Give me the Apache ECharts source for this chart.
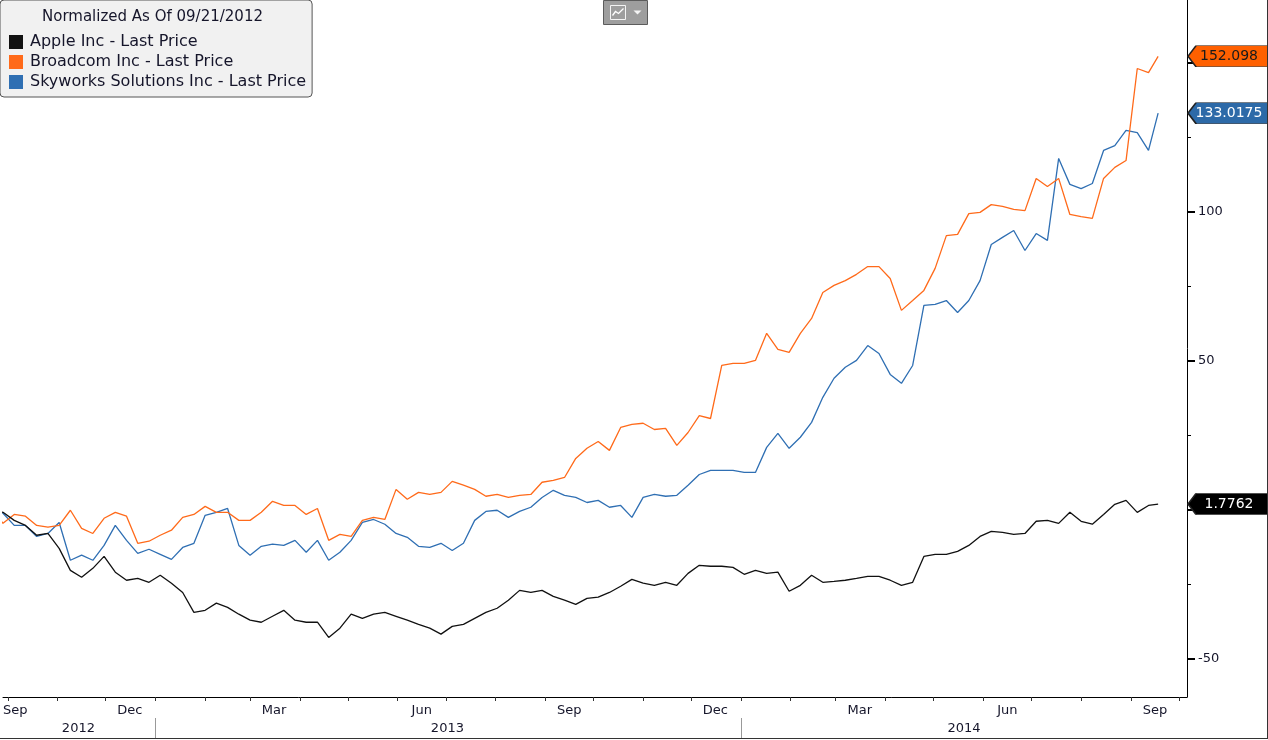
<!DOCTYPE html>
<html>
<head>
<meta charset="utf-8">
<script src="https://cdn.jsdelivr.net/npm/echarts@6/dist/echarts.min.js"></script>
<style>
  html, body { margin: 0; padding: 0; background: #fff; }
  #chart { width: 1267px; height: 738px; border-right: 1px solid #333; border-bottom: 1px solid #333; }
</style>
</head>
<body>
<div id="chart"></div>
<script>
// weekly closes, normalized (% change) as of 09/21/2012
const dates = [
  '2012-09-21', '2012-09-28', '2012-10-05', '2012-10-12', '2012-10-19', '2012-10-26', '2012-11-02', '2012-11-09',
  '2012-11-16', '2012-11-23', '2012-11-30', '2012-12-07', '2012-12-14', '2012-12-21', '2012-12-28',
  '2013-01-04', '2013-01-11', '2013-01-18', '2013-01-25', '2013-02-01', '2013-02-08', '2013-02-15', '2013-02-22',
  '2013-03-01', '2013-03-08', '2013-03-15', '2013-03-22', '2013-03-29', '2013-04-05', '2013-04-12', '2013-04-19',
  '2013-04-26', '2013-05-03', '2013-05-10', '2013-05-17', '2013-05-24', '2013-05-31', '2013-06-07', '2013-06-14',
  '2013-06-21', '2013-06-28', '2013-07-05', '2013-07-12', '2013-07-19', '2013-07-26', '2013-08-02', '2013-08-09',
  '2013-08-16', '2013-08-23', '2013-08-30', '2013-09-06', '2013-09-13', '2013-09-20', '2013-09-27', '2013-10-04',
  '2013-10-11', '2013-10-18', '2013-10-25', '2013-11-01', '2013-11-08', '2013-11-15', '2013-11-22', '2013-11-29',
  '2013-12-06', '2013-12-13', '2013-12-20', '2013-12-27',
  '2014-01-03', '2014-01-10', '2014-01-17', '2014-01-24', '2014-01-31', '2014-02-07', '2014-02-14', '2014-02-21',
  '2014-02-28', '2014-03-07', '2014-03-14', '2014-03-21', '2014-03-28', '2014-04-04', '2014-04-11', '2014-04-18',
  '2014-04-25', '2014-05-02', '2014-05-09', '2014-05-16', '2014-05-23', '2014-05-30', '2014-06-06', '2014-06-13',
  '2014-06-20', '2014-06-27', '2014-07-04', '2014-07-11', '2014-07-18', '2014-07-25', '2014-08-01', '2014-08-08',
  '2014-08-15', '2014-08-22', '2014-08-29', '2014-09-05', '2014-09-12', '2014-09-18'
];

const apple = [
  0, -1.0, -3.7, -5.4, -8.7, -8.1, -13.1, -20.5, -22.8, -19.8,
  -15.8, -21.1, -23.8, -23.2, -24.5, -22.1, -24.8, -27.9, -34.6, -33.9,
  -31.5, -32.9, -35.2, -37.2, -37.9, -35.9, -33.9, -37.2, -37.9, -37.9,
  -43.0, -39.9, -35.2, -36.6, -35.2, -34.6, -35.9, -37.2, -38.6, -39.9,
  -41.9, -39.3, -38.6, -36.6, -34.6, -33.2, -30.5, -27.2, -27.9, -27.2,
  -29.2, -30.5, -31.9, -29.9, -29.5, -27.9, -25.8, -23.5, -24.8, -25.5,
  -24.5, -25.5, -21.5, -18.8, -19.1, -19.1, -19.5, -21.8, -20.5, -21.5,
  -21.1, -27.5, -25.5, -22.1, -24.5, -24.2, -23.8, -23.2, -22.5, -22.5,
  -23.8, -25.5, -24.5, -15.8, -15.1, -15.1, -14.1, -12.1, -9.1, -7.4,
  -7.7, -8.4, -8.1, -4.0, -3.7, -4.7, -1.0, -4.0, -5.0, -1.7,
  1.7, 3.0, -1.0, 1.3, 1.7762
];

const broadcom = [
  0, -4.7, -1.7, -2.3, -5.4, -6.0, -5.4, -0.3, -6.4, -8.1,
  -3.0, -1.0, -2.3, -11.4, -10.7, -8.7, -7.0, -2.7, -1.7, 1.0,
  -1.0, -1.0, -3.7, -3.7, -1.0, 2.7, 1.3, 1.3, -1.7, 0.3,
  -10.4, -8.4, -9.1, -3.7, -2.7, -3.4, 6.7, 3.4, 5.7, 5.0,
  5.7, 9.4, 8.1, 6.7, 4.4, 5.0, 4.0, 4.7, 5.0, 9.1,
  9.7, 10.7, 17.1, 20.5, 22.8, 19.8, 27.5, 28.5, 28.9, 26.8,
  27.2, 21.5, 25.8, 31.5, 30.5, 48.3, 49.0, 49.0, 50.0, 59.1,
  53.7, 52.7, 59.1, 64.1, 72.8, 75.2, 76.8, 78.9, 81.5, 81.5,
  77.5, 66.8, 70.1, 73.5, 80.9, 91.9, 92.3, 99.3, 99.7, 102.3,
  101.7, 100.7, 100.3, 111.1, 108.4, 111.1, 99.0, 98.3, 97.7, 111.1,
  114.8, 117.1, 148.0, 146.6, 152.098
];

const skyworks = [
  0, -1.3, -5.4, -5.4, -9.1, -8.1, -4.4, -17.1, -15.4, -17.1,
  -12.1, -5.4, -10.4, -14.8, -13.4, -15.1, -16.8, -12.8, -11.4, -2.0,
  -1.0, 0.3, -12.1, -15.4, -12.4, -11.7, -12.1, -10.4, -14.4, -10.4,
  -17.1, -14.4, -10.4, -4.4, -3.4, -5.0, -8.1, -9.4, -12.4, -12.8,
  -11.4, -13.8, -11.4, -3.7, -0.7, -0.3, -2.7, -0.7, 0.7, 4.0,
  6.4, 4.7, 4.0, 2.3, 3.0, 0.7, 1.3, -2.7, 4.0, 5.0,
  4.4, 4.7, 8.1, 11.7, 13.1, 13.1, 13.1, 12.4, 12.4, 20.8,
  25.5, 20.5, 24.2, 29.2, 37.6, 44.0, 47.7, 50.0, 55.0, 52.3,
  45.3, 42.3, 48.3, 68.5, 68.8, 70.1, 66.1, 70.1, 76.8, 88.9,
  91.3, 93.6, 86.9, 92.6, 90.3, 117.8, 109.1, 107.7, 109.4, 120.5,
  122.1, 127.2, 126.5, 120.5, 133.0175
];

const seriesNames = ['Apple Inc - Last Price', 'Broadcom Inc - Last Price', 'Skyworks Solutions Inc - Last Price'];
const seriesColors = ['#111111', '#ff6a1a', '#2f6fb3'];
const tagColors = ['#000000', '#ff6000', '#2d6aa8'];
const tagTextColors = ['#ffffff', '#1a1a1a', '#ffffff'];

// axis range / ticks
const xStart = '2012-09-28';
const xEnd = '2014-10-06';
const monthStarts = [
  '2012-10-01', '2012-11-01', '2012-12-01', '2013-01-01', '2013-02-01', '2013-03-01', '2013-04-01',
  '2013-05-01', '2013-06-01', '2013-07-01', '2013-08-01', '2013-09-01', '2013-10-01', '2013-11-01',
  '2013-12-01', '2014-01-01', '2014-02-01', '2014-03-01', '2014-04-01', '2014-05-01', '2014-06-01',
  '2014-07-01', '2014-08-01', '2014-09-01', '2014-10-01'
];
const monthLabelDates = ['2012-09-28', '2012-12-16', '2013-03-16', '2013-06-16', '2013-09-16', '2013-12-16', '2014-03-16', '2014-06-16', '2014-09-16'];
const yearStarts = ['2013-01-01', '2014-01-01'];
const yearLabelDates = ['2012-11-14', '2013-07-02', '2014-05-20'];
const yMin = -63;
const yMax = 171;
const yTicks = [-50, 0, 50, 100, 150];
const yMinorTicks = [-75, -25, 25, 75, 125];

const monthNames = ['Jan', 'Feb', 'Mar', 'Apr', 'May', 'Jun', 'Jul', 'Aug', 'Sep', 'Oct', 'Nov', 'Dec'];
const FONT = 'DejaVu Sans';
const TXT = '#15152a';

// 'YYYY-MM-DD' -> local timestamp
function ts(s) {
  const p = s.split('-').map(Number);
  return new Date(p[0], p[1] - 1, p[2]).getTime();
}

const chart = echarts.init(document.getElementById('chart'));

const allSeries = [apple, broadcom, skyworks].map((vals, i) => {
  const last = vals[vals.length - 1];
  return {
    name: seriesNames[i],
    type: 'line',
    data: dates.map((d, j) => [ts(d), vals[j]]),
    showSymbol: false,
    symbol: 'none',
    clip: true,
    color: seriesColors[i],
    lineStyle: { width: 1.3, color: seriesColors[i] },
    z: 3 + (2 - i),
    markPoint: {
      silent: true,
      symbol: 'path://M0,10L8,0L80,0L80,20L8,20Z',
      symbolSize: [80, 21],
      symbolKeepAspect: false,
      symbolOffset: [41, 0],
      itemStyle: { color: tagColors[i], borderColor: '#222', borderWidth: 1 },
      label: {
        show: true,
        position: 'inside',
        offset: [1, 0],
        formatter: String(last),
        color: tagTextColors[i],
        fontFamily: FONT,
        fontSize: 14
      },
      data: [{ coord: [ts(xEnd), last] }]
    }
  };
});

const option = {
  animation: false,
  backgroundColor: '#fff',
  textStyle: { fontFamily: FONT },
  title: {
    text: 'Normalized As Of 09/21/2012',
    left: 42,
    top: 10,
    padding: 0,
    textStyle: { fontFamily: FONT, fontSize: 15, fontWeight: 'normal', color: TXT }
  },
  legend: {
    orient: 'vertical',
    left: 0,
    top: 0,
    padding: [32, 6, 5, 9],
    itemGap: 0,
    itemWidth: 14,
    itemHeight: 14,
    icon: 'rect',
    backgroundColor: '#f1f1f1',
    borderColor: '#555',
    borderWidth: 1,
    borderRadius: 4,
    data: seriesNames,
    textStyle: { fontFamily: FONT, fontSize: 16, color: TXT, lineHeight: 20, padding: [0, 0, 0, 2] }
  },
  grid: { left: 0, right: 80, top: 0, bottom: 41, containLabel: false },
  xAxis: [
    {
      type: 'value',
      min: ts(xStart),
      max: ts(xEnd),
      axisLine: { show: true, onZero: false, lineStyle: { color: '#000', width: 1 } },
      axisTick: { show: true, customValues: monthStarts.map(ts), length: 4, lineStyle: { color: '#333' } },
      axisLabel: {
        customValues: monthLabelDates.map(ts),
        formatter: (v) => monthNames[new Date(v).getMonth()],
        alignMinLabel: 'left',
        margin: 7,
        fontSize: 13,
        color: TXT
      },
      splitLine: { show: false }
    },
    {
      type: 'value',
      min: ts(xStart),
      max: ts(xEnd),
      position: 'bottom',
      offset: 41,
      axisLine: { show: false, onZero: false },
      axisTick: { show: true, inside: true, customValues: yearStarts.map(ts), length: 20, lineStyle: { color: '#999' } },
      axisLabel: {
        inside: true,
        customValues: yearLabelDates.map(ts),
        formatter: (v) => String(new Date(v).getFullYear()),
        margin: 3,
        fontSize: 13,
        color: TXT
      },
      splitLine: { show: false }
    }
  ],
  yAxis: [
    {
      type: 'value',
      position: 'right',
      min: yMin,
      max: yMax,
      axisLine: { show: true, onZero: false, lineStyle: { color: '#000', width: 1 } },
      axisTick: { show: true, customValues: yTicks, length: 8, lineStyle: { color: '#000', width: 2 } },
      axisLabel: { customValues: yTicks, margin: 11, fontSize: 13, color: TXT },
      splitLine: { show: false }
    },
    {
      type: 'value',
      position: 'right',
      min: yMin,
      max: yMax,
      axisLine: { show: false, onZero: false },
      axisTick: { show: true, customValues: yMinorTicks, length: 4, lineStyle: { color: '#000', width: 1 } },
      axisLabel: { show: false },
      splitLine: { show: false }
    }
  ],
  graphic: [
    {
      type: 'group',
      left: 603,
      top: 0,
      children: [
        { type: 'rect', shape: { x: 0, y: 0, width: 44, height: 24 }, style: { fill: '#9e9e9e', stroke: '#5c5c5c', lineWidth: 1 } },
        { type: 'rect', shape: { x: 7, y: 5, width: 15, height: 14 }, style: { fill: 'none', stroke: '#f4f4f4', lineWidth: 1 } },
        { type: 'polyline', shape: { points: [[9, 15], [12, 11], [15, 13], [20, 8]] }, style: { stroke: '#fff', fill: 'none', lineWidth: 1.3 } },
        { type: 'polygon', shape: { points: [[30, 10], [38, 10], [34, 14]] }, style: { fill: '#f4f4f4' } }
      ]
    }
  ],
  series: allSeries
};

chart.setOption(option);
</script>
</body>
</html>
